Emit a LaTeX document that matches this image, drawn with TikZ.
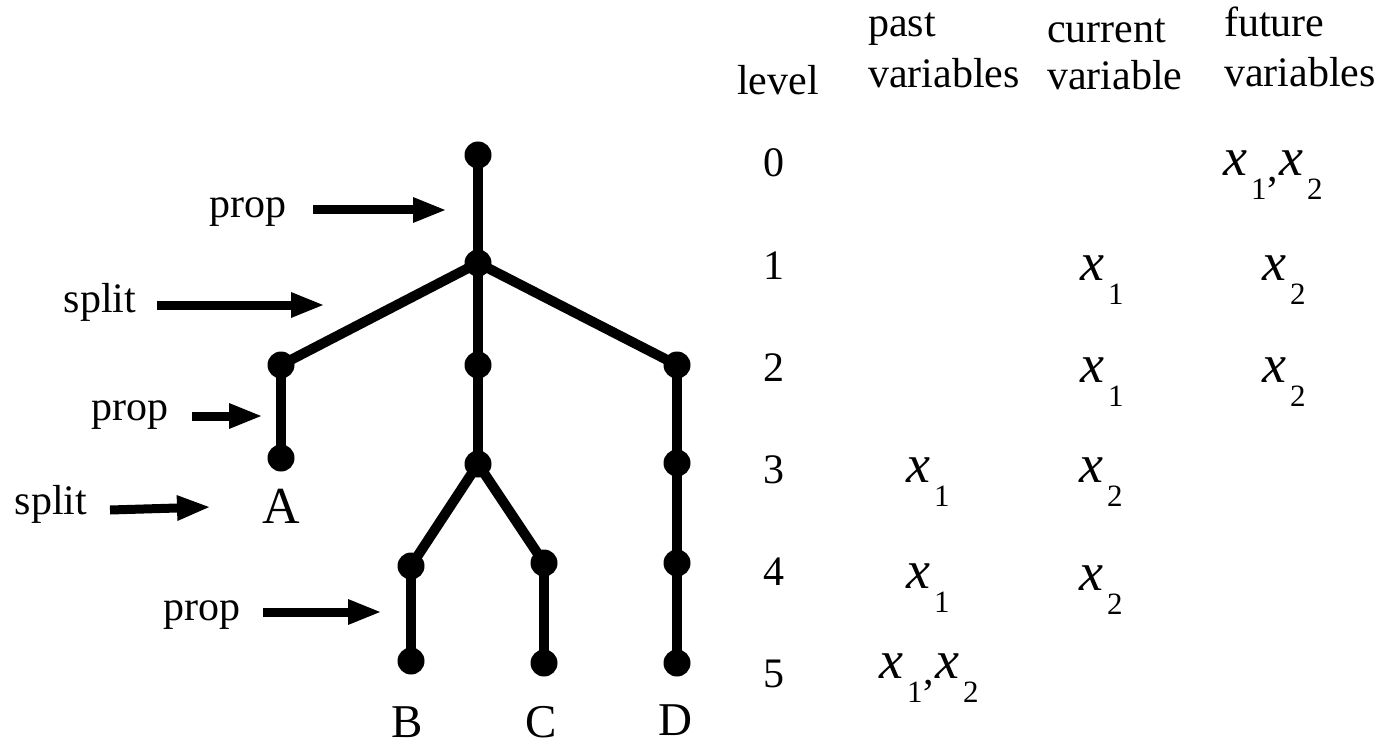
\documentclass[tikz,border=0pt]{standalone}
\usepackage{fontspec}
\setmainfont{Liberation Serif}
\usetikzlibrary{arrows.meta}
\newcommand\xvar[1]{{\fontsize{54}{54}\selectfont\itshape x}\kern4pt\raisebox{-24pt}{\fontsize{31}{31}\selectfont #1}}
\newcommand\xcomma{\raisebox{-6pt}{\fontsize{42}{42}\selectfont ,}}
\tikzset{
  treedot/.style={circle,fill=black,inner sep=0pt,minimum size=27pt},
  branch/.style={line width=10pt},
  lab/.style={font=\fontsize{42}{42}\selectfont,inner sep=0pt,anchor=base},
  leaflab/.style={font=\fontsize{47}{47}\selectfont,inner sep=0pt,anchor=base},
  hd/.style={font=\fontsize{42}{42}\selectfont,inner sep=0pt,anchor=base west},
  ent/.style={inner sep=0pt,anchor=base west},
  arr/.style={line width=9pt,-{Triangle[length=34pt,width=23pt]}},
}
\begin{document}
\begin{tikzpicture}[x=1pt,y=-1pt]
\useasboundingbox[fill=white] (0,0) rectangle (1384,746);
% tree nodes
\node[treedot] (r0) at (478,155) {};
\node[treedot] (r1) at (478,263) {};
\node[treedot] (L) at (281,365) {};
\node[treedot] (M) at (478,365) {};
\node[treedot] (R) at (677,365) {};
\node[treedot] (Al) at (281,458) {};
\node[treedot] (M3) at (478,464) {};
\node[treedot] (R3) at (677,463) {};
\node[treedot] (Bp) at (411,566) {};
\node[treedot] (Cp) at (544,563) {};
\node[treedot] (R4) at (677,563) {};
\node[treedot] (Bl) at (411,661) {};
\node[treedot] (Cl) at (544,663) {};
\node[treedot] (Dl) at (677,663) {};
% branches
\draw[branch] (r0.center) -- (r1.center);
\draw[branch] (r1.center) -- (L.center);
\draw[branch] (r1.center) -- (M.center);
\draw[branch] (r1.center) -- (R.center);
\draw[branch] (L.center) -- (Al.center);
\draw[branch] (M.center) -- (M3.center);
\draw[branch] (R.center) -- (R3.center);
\draw[branch] (M3.center) -- (Bp.center);
\draw[branch] (M3.center) -- (Cp.center);
\draw[branch] (R3.center) -- (R4.center);
\draw[branch] (Bp.center) -- (Bl.center);
\draw[branch] (Cp.center) -- (Cl.center);
\draw[branch] (R4.center) -- (Dl.center);
% leaf labels
\node[leaflab,font=\fontsize{52}{52}\selectfont] (A) at (281,523) {A};
\node[leaflab] (B) at (407,737) {B};
\node[leaflab] (C) at (541,737) {C};
\node[leaflab] (D) at (675,735) {D};
% operation labels and arrows
\node[lab] (p1) at (248,218) {prop};
\node[lab] (s1) at (100,312) {split};
\node[lab] (p2) at (130,420) {prop};
\node[lab] (s2) at (51,514) {split};
\node[lab] (p3) at (202,620) {prop};
\coordinate (p1a) at (313,210); \coordinate (p1b) at (447,210);
\coordinate (s1a) at (157,305); \coordinate (s1b) at (325,305);
\coordinate (p2a) at (192,416); \coordinate (p2b) at (263,416);
\coordinate (s2a) at (110,510); \coordinate (s2b) at (211,507);
\coordinate (p3a) at (263,612); \coordinate (p3b) at (382,612);
\draw[arr] (p1a) -- (p1b);
\draw[arr] (s1a) -- (s1b);
\draw[arr] (p2a) -- (p2b);
\draw[arr] (s2a) -- (s2b);
\draw[arr] (p3a) -- (p3b);
% table headers
\node[hd] (hlevel) at (737,95) {level};
\node[hd] (hpast1) at (868,37) {past};
\node[hd] (hpast2) at (868,88) {variables};
\node[hd] (hcur1) at (1047,43) {current};
\node[hd] (hcur2) at (1047,90) {variable};
\node[hd] (hfut1) at (1224,37) {future};
\node[hd] (hfut2) at (1224,87) {variables};
% level numbers
\node[lab] (l0) at (774,177) {0};
\node[lab] (l1) at (774,279) {1};
\node[lab] (l2) at (774,381) {2};
\node[lab] (l3) at (774,483) {3};
\node[lab] (l4) at (774,585) {4};
\node[lab] (l5) at (774,687) {5};
% entries
\node[ent] (f0) at (1223,176) {\xvar{1}\kern1pt\xcomma\kern1pt\xvar{2}};
\node[ent] (c1) at (1080,280) {\xvar{1}};
\node[ent] (f1) at (1262,280) {\xvar{2}};
\node[ent] (c2) at (1080,382) {\xvar{1}};
\node[ent] (f2) at (1262,382) {\xvar{2}};
\node[ent] (pa3) at (906,482) {\xvar{1}};
\node[ent] (c3) at (1079,482) {\xvar{2}};
\node[ent] (pa4) at (906,588) {\xvar{1}};
\node[ent] (c4) at (1079,590) {\xvar{2}};
\node[ent] (pa5) at (879,678) {\xvar{1}\kern1pt\xcomma\kern1pt\xvar{2}};
\end{tikzpicture}
\end{document}
